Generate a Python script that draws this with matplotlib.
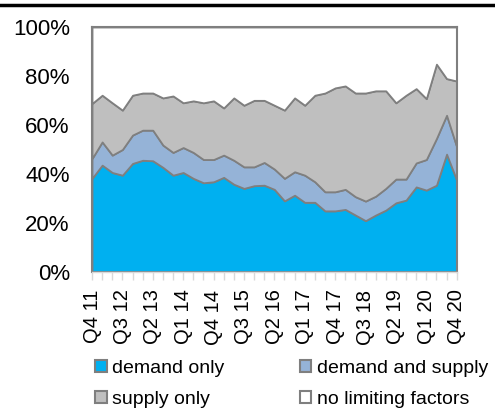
import matplotlib
matplotlib.use("Agg")
import matplotlib.pyplot as plt
from matplotlib.lines import Line2D
from matplotlib.patches import Patch

plt.rcParams["font.family"] = ["Liberation Sans", "DejaVu Sans"]

# quarters Q4 11 .. Q4 20
quarters = ["Q4 11"] + [f"Q{q} {y}" for y in range(12, 21) for q in range(1, 5)]

demand_only = [38.1, 43.5, 40.5, 39.4, 44.2, 45.5, 45.3, 42.6, 39.4, 40.5, 38.1, 36.3, 36.7,
               38.5, 35.7, 34.0, 35.1, 35.3, 33.6, 28.9, 31.2, 28.3, 28.3, 24.8, 24.8, 25.4,
               23.1, 20.8, 23.1, 25.1, 28.1, 29.2, 34.6, 33.3, 35.3, 48.0, 37.4]
demand_and_supply = [8.1, 9.5, 7.1, 10.5, 11.6, 12.3, 12.5, 9.1, 9.3, 10.2, 10.6, 9.5, 9.1,
                     9.1, 9.8, 8.8, 7.7, 9.3, 8.3, 9.2, 9.6, 11.1, 8.4, 7.8, 7.8, 8.2,
                     7.5, 8.0, 7.7, 8.9, 9.7, 8.6, 9.8, 12.5, 19.1, 15.9, 13.6]
supply_only = [22.5, 19.1, 21.4, 16.1, 16.3, 15.2, 15.2, 19.3, 23.1, 18.3, 21.1, 23.2, 24.0,
               19.3, 25.5, 25.2, 27.2, 25.4, 26.1, 27.9, 30.2, 28.6, 35.4, 40.4, 42.5, 42.3,
               42.4, 44.2, 43.1, 39.9, 31.2, 34.3, 30.4, 24.9, 30.4, 15.0, 26.9]
no_limiting = [31.3, 27.9, 31.0, 34.0, 27.9, 27.0, 27.0, 29.0, 28.2, 31.0, 30.2, 31.0, 30.2,
               33.1, 29.0, 32.0, 30.0, 30.0, 32.0, 34.0, 29.0, 32.0, 27.9, 27.0, 24.9, 24.1,
               27.0, 27.0, 26.1, 26.1, 31.0, 27.9, 25.2, 29.3, 15.2, 21.1, 22.1]

series_names = ["demand only", "demand and supply", "supply only", "no limiting factors"]
colors = ["#00B0F0", "#95B3D7", "#BFBFBF", "#FFFFFF"]
edge = "#7F7F7F"

fig = plt.figure(figsize=(4.95, 4.13), dpi=100)
ax = fig.add_axes([92 / 495, 1 - 271.5 / 413, (456.7 - 92) / 495, (271.5 - 27) / 413])

x = list(range(len(quarters)))
ax.stackplot(x, demand_only, demand_and_supply, supply_only, no_limiting,
             colors=colors, edgecolor=edge, linewidth=1.3)

ax.set_xlim(0, len(quarters) - 1)
ax.set_ylim(0, 100)

ax.set_xticks(x)
ax.set_xticklabels([q if i % 3 == 0 else "" for i, q in enumerate(quarters)],
                   rotation=90, fontsize=14.5)
ax.tick_params(axis="x", length=6, width=1, color="#D9D9D9", pad=7)

ax.set_yticks(range(0, 101, 20))
ax.set_yticklabels([f"{v}%" for v in range(0, 101, 20)], fontsize=16)
ax.tick_params(axis="y", length=0, pad=16)

for s in ["left", "top", "right"]:
    ax.spines[s].set_color(edge)
    ax.spines[s].set_linewidth(1.5)
ax.spines["bottom"].set_color("#D9D9D9")
ax.spines["bottom"].set_linewidth(1)
ax.set_zorder(1)

# legend fills column-wise, so order so rows read: demand only | demand and supply
order = [0, 2, 1, 3]
handles = [Patch(facecolor=colors[i], edgecolor=edge, linewidth=1.5) for i in order]
labels = [series_names[i] for i in order]
fig.legend(handles, labels, loc="upper left", ncol=2,
           bbox_to_anchor=(95 / 495, 1 - 360 / 413), frameon=False, fontsize=14,
           handlelength=0.6, handleheight=0.6, handletextpad=0.3,
           columnspacing=3.85, labelspacing=0.72, borderpad=0, borderaxespad=0)

fig.add_artist(Line2D([0, 1], [1 - 5 / 413] * 2, color="black", linewidth=2.5))

fig.savefig("out.png", dpi=100)
